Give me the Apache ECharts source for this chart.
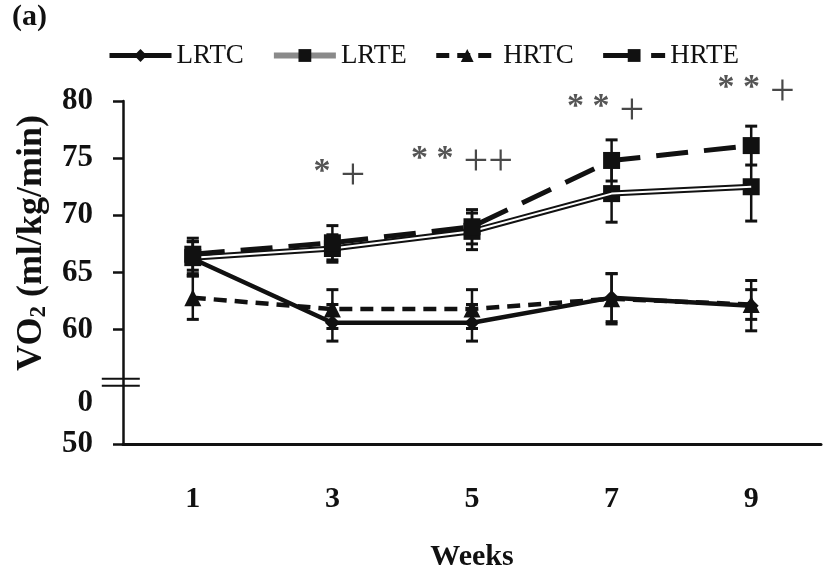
<!DOCTYPE html>
<html>
<head>
<meta charset="utf-8">
<script src="https://cdn.jsdelivr.net/npm/echarts@6/dist/echarts.min.js"></script>
<style>
  html, body { margin: 0; padding: 0; background: #fff; }
  #chart { width: 823px; height: 577px; }
</style>
</head>
<body>
<div id="chart"></div>
<script>
// Weeks of training
const weeks = ['1', '3', '5', '7', '9'];

// Mean VO2 (ml/kg/min) per group
const lrtc = [66.2, 60.6, 60.6, 62.8, 62.1];
const lrte = [66.3, 67.1, 68.6, 71.9, 72.5];
const hrtc = [62.8, 61.8, 61.8, 62.7, 62.2];
const hrte = [66.6, 67.6, 69.0, 74.8, 76.1];

// Standard deviations
const lrtcErr = [1.5, 1.6, 1.6, 2.1, 2.2];
const lrteErr = [1.4, 1.2, 1.6, 2.5, 3.0];
const hrtcErr = [1.9, 1.7, 1.7, 2.2, 1.3];
const hrteErr = [1.4, 1.5, 1.5, 1.8, 1.7];

// Significance marks above weeks 3-9
const markWeeks = ['3', '5', '7', '9'];
const markStars = ['*', '* *', '* *', '* *'];
const markPlus = ['+', '++', '+', '+'];
const markLevel = [73.3, 74.5, 79.0, 80.7];

// Y axis ticks and labels (axis broken at 55)
const yTicks = [50, 60, 65, 70, 75, 80];
const yLabels = [50, 60, 65, 70, 75, 80];
const breakAt = 55.4;
const strayLabel = { value: 53.6, text: '0' };

const FONT = 'Liberation Serif';
const INK = '#111';

function errorBars(name, values, errs) {
  return {
    type: 'custom',
    name: name + ' SD',
    silent: true,
    z: 4,
    data: values.map((v, i) => [i, v - errs[i], v + errs[i]]),
    encode: { x: 0, y: [1, 2] },
    renderItem(params, api) {
      const lo = api.coord([api.value(0), api.value(1)]);
      const hi = api.coord([api.value(0), api.value(2)]);
      const hw = 6;
      return {
        type: 'group',
        children: [
          { type: 'line', shape: { x1: lo[0], y1: lo[1], x2: hi[0], y2: hi[1] }, style: { stroke: INK, lineWidth: 2.5 } },
          { type: 'line', shape: { x1: lo[0] - hw, y1: lo[1], x2: lo[0] + hw, y2: lo[1] }, style: { stroke: INK, lineWidth: 3 } },
          { type: 'line', shape: { x1: hi[0] - hw, y1: hi[1], x2: hi[0] + hw, y2: hi[1] }, style: { stroke: INK, lineWidth: 3 } }
        ]
      };
    }
  };
}

// horizontal nudges of the significance marks, px
const markOffsets = [[7, 0], [-10, 0], [-6, 0], [5, 0]];

const chart = echarts.init(document.getElementById('chart'), null, { renderer: 'canvas' });

const option = {
  backgroundColor: '#fff',
  animation: false,
  grid: { left: 123, right: 2, top: 101, bottom: 127, containLabel: false },
  legend: {
    left: 102,
    top: 37,
    itemWidth: 62,
    itemHeight: 16,
    itemGap: 27,
    textStyle: { fontFamily: FONT, fontSize: 27, color: INK },
    data: [
      { name: 'LRTC', lineStyle: { width: 5 } },
      { name: 'LRTE', lineStyle: { color: '#8a8a8a', width: 6 } },
      { name: 'HRTC', lineStyle: { width: 5 } },
      { name: 'HRTE', lineStyle: { width: 5 } }
    ]
  },
  xAxis: {
    type: 'category',
    data: weeks,
    boundaryGap: true,
    name: 'Weeks',
    nameLocation: 'middle',
    nameGap: 98,
    nameTextStyle: { fontFamily: FONT, fontSize: 30, fontWeight: 'bold', color: INK },
    axisLine: { lineStyle: { color: INK, width: 3 } },
    axisTick: { length: 9, lineStyle: { color: INK, width: 2.5 } },
    axisLabel: { fontFamily: FONT, fontSize: 30, fontWeight: 'bold', color: INK, margin: 40 },
    splitLine: { show: false }
  },
  yAxis: {
    type: 'value',
    min: 50,
    max: 80,
    interval: 5,
    axisLine: { show: true, lineStyle: { color: INK, width: 2.5 } },
    axisTick: { show: true, length: 10, customValues: yTicks, lineStyle: { color: INK, width: 2.5 } },
    axisLabel: {
      fontFamily: FONT, fontSize: 31, fontWeight: 'bold', color: INK, margin: 30,
      customValues: yLabels.concat([strayLabel.value]),
      formatter: v => (Math.abs(v - strayLabel.value) < 1e-6 ? strayLabel.text : String(v))
    },
    splitLine: { show: false }
  },
  series: [
    errorBars('HRTC', hrtc, hrtcErr),
    errorBars('LRTC', lrtc, lrtcErr),
    errorBars('LRTE', lrte, lrteErr),
    errorBars('HRTE', hrte, hrteErr),
    {
      name: 'HRTC', type: 'line', data: hrtc, z: 5,
      symbol: 'triangle', symbolSize: 17,
      itemStyle: { color: INK },
      lineStyle: { color: INK, width: 4.5, type: [13, 8] }
    },
    {
      name: 'LRTC', type: 'line', data: lrtc, z: 6,
      symbol: 'diamond', symbolSize: 15,
      itemStyle: { color: INK },
      lineStyle: { color: INK, width: 4.5 }
    },
    {
      name: 'LRTE', type: 'line', data: lrte, z: 6,
      symbol: 'rect', symbolSize: 17,
      itemStyle: { color: INK },
      lineStyle: { color: INK, width: 6 }
    },
    {
      // inner light stroke giving the double-line look
      name: 'LRTE inner', type: 'line', data: lrte, z: 7,
      symbol: 'none', silent: true,
      lineStyle: { color: '#fff', width: 2 }
    },
    {
      name: 'HRTE', type: 'line', data: hrte, z: 8,
      symbol: 'rect', symbolSize: 17,
      itemStyle: { color: INK },
      lineStyle: { color: INK, width: 5, type: [32, 16] }
    },
    {
      name: 'marks', type: 'scatter', z: 9, silent: true, clip: false,
      symbol: 'circle', symbolSize: 0,
      itemStyle: { color: 'rgba(0,0,0,0)' },
      data: markWeeks.map((w, i) => ({
        value: [w, markLevel[i]],
        label: {
          show: true,
          offset: markOffsets[i],
          formatter: '{s|' + markStars[i] + '}{p|' + markPlus[i] + '}'
        }
      })),
      label: {
        show: true,
        position: 'inside',
        rich: {
          s: { fontFamily: FONT, fontSize: 34, fontWeight: 'bold', color: '#2a2a2a', verticalAlign: 'top', padding: [0, 10, 0, 0] },
          p: { fontFamily: FONT, fontSize: 44, color: '#1a1a1a' }
        }
      }
    }
  ]
};

chart.setOption(option);

// Axis break, panel tag and y-axis title
const yBreak = chart.convertToPixel({ yAxisIndex: 0 }, breakAt);
const axisX = chart.convertToPixel({ xAxisIndex: 0, yAxisIndex: 0 }, [0, 50])[0] - 70;
chart.setOption({
  graphic: [
    { type: 'line', z: 20, shape: { x1: axisX - 21, y1: yBreak - 3.5, x2: axisX + 17, y2: yBreak - 3.5 }, style: { stroke: INK, lineWidth: 2 } },
    { type: 'line', z: 20, shape: { x1: axisX - 21, y1: yBreak + 3.5, x2: axisX + 17, y2: yBreak + 3.5 }, style: { stroke: INK, lineWidth: 2 } },
    {
      type: 'text', left: 12, top: 2, z: 20,
      style: { text: '(a)', fontFamily: FONT, fontSize: 30, fontWeight: 'bold', fill: INK }
    },
    {
      type: 'text', z: 20, x: 32, y: 243, rotation: Math.PI / 2,
      style: {
        text: 'VO{sub|2} (ml/kg/min)',
        align: 'center', verticalAlign: 'middle',
        fontFamily: FONT, fontSize: 36, fontWeight: 'bold', fill: INK,
        rich: {
          sub: { fontFamily: FONT, fontSize: 23, fontWeight: 'bold', fill: INK, verticalAlign: 'bottom', padding: [14, 0, 0, 0] }
        }
      }
    }
  ]
});
</script>
</body>
</html>
